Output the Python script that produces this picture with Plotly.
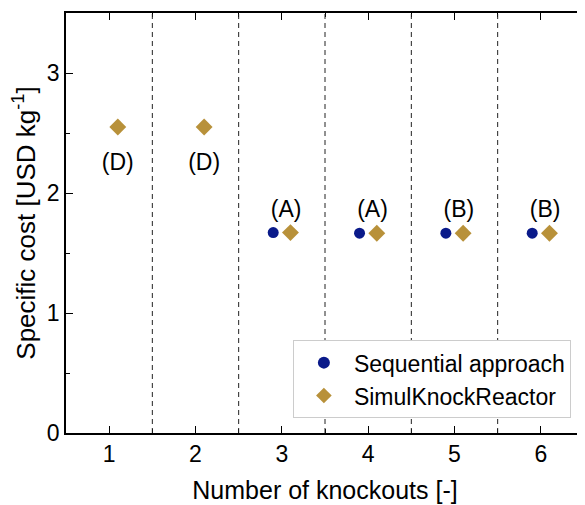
import plotly.graph_objects as go

knockouts = [1, 2, 3, 4, 5, 6]
seq_x = [3, 4, 5, 6]
seq_cost = [1.67, 1.665, 1.665, 1.665]
sim_x = [1, 2, 3, 4, 5, 6]
sim_cost = [2.55, 2.55, 1.67, 1.665, 1.665, 1.665]
labels = ["(D)", "(D)", "(A)", "(A)", "(B)", "(B)"]
label_y = [2.24, 2.24, 1.85, 1.85, 1.85, 1.85]
offset = 0.1

navy = "#0a1a8a"
gold = "#b8913a"
font = "Liberation Sans, Arial, sans-serif"

# labels sit over the diamond when only one method has a point, else between the pair
label_x = [k + (offset if k not in seq_x else offset / 2) for k in knockouts]

fig = go.Figure()
fig.add_trace(go.Scatter(x=[v - offset for v in seq_x], y=seq_cost, mode="markers",
                         name="Sequential approach",
                         marker=dict(symbol="circle", size=11, color=navy)))
fig.add_trace(go.Scatter(x=[v + offset for v in sim_x], y=sim_cost, mode="markers",
                         name="SimulKnockReactor",
                         marker=dict(symbol="diamond", size=13, color=gold)))
fig.add_trace(go.Scatter(x=label_x, y=label_y, mode="text", text=labels,
                         textfont=dict(size=23, color="black", family=font),
                         showlegend=False, hoverinfo="skip"))

for k in knockouts[:-1]:
    fig.add_vline(x=k + 0.5, line=dict(color="#222222", width=1, dash="5px,4px"))

axis_common = dict(showline=True, linecolor="black", linewidth=1.5, mirror="ticks",
                   ticks="inside", ticklen=7, tickwidth=1.2, tickcolor="black",
                   showgrid=False, zeroline=False, automargin=False,
                   tickfont=dict(size=23, color="black", family=font),
                   minor=dict(ticks="inside", ticklen=4, tickwidth=1.2, tickcolor="black", showgrid=False))

fig.update_xaxes(range=[0.5, 6.5], tickmode="array", tickvals=knockouts,
                 title=dict(text="Number of knockouts [-]", font=dict(size=25, color="black", family=font)),
                 **axis_common)
fig.update_xaxes(minor=dict(tickvals=[k + 0.5 for k in knockouts]))
fig.update_yaxes(range=[0, 3.5], tickvals=[0, 1, 2, 3],
                 title=dict(text="Specific cost [USD kg<sup>-1</sup>]", font=dict(size=26, color="black", family=font)),
                 **axis_common)
fig.update_yaxes(minor=dict(dtick=0.5))

fig.update_layout(width=577, height=497, plot_bgcolor="white", paper_bgcolor="white",
                  margin=dict(l=58, r=1, t=5, b=72),
                  font=dict(family=font, color="black"),
                  legend=dict(x=0.438, y=0.221, xanchor="left", yanchor="top",
                              bgcolor="white", bordercolor="#cccccc", borderwidth=1,
                              font=dict(size=23, color="black", family=font),
                              itemsizing="constant", itemwidth=50, tracegroupgap=0))

fig.write_html("out.html")
